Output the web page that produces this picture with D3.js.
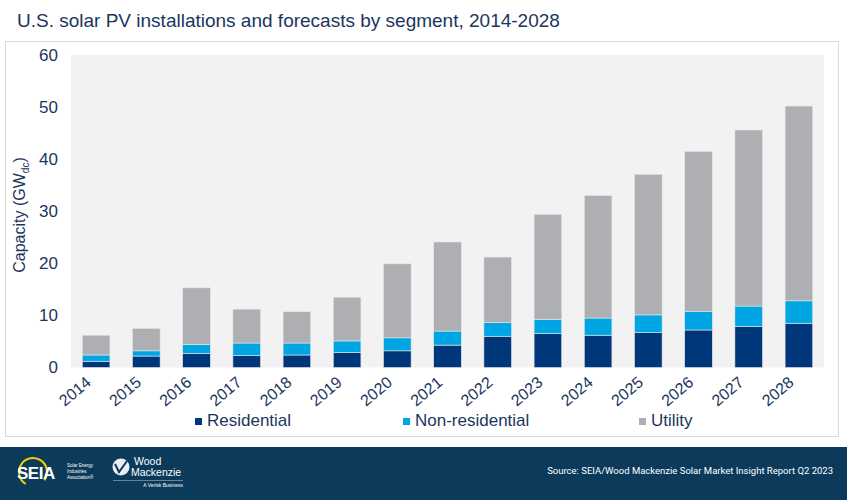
<!DOCTYPE html>
<html>
<head>
<meta charset="utf-8">
<script src="https://cdn.jsdelivr.net/npm/d3@7"></script>
<style>
  html, body { margin: 0; padding: 0; background: #fff; }
  svg { display: block; font-family: Arial, "Liberation Sans", sans-serif; }
</style>
</head>
<body>
<div id="container"></div>
<script>
const years = ["2014", "2015", "2016", "2017", "2018", "2019", "2020", "2021",
               "2022", "2023", "2024", "2025", "2026", "2027", "2028"];
const residential    = [1.2, 2.2, 2.7, 2.3, 2.4, 2.9, 3.2, 4.3, 6.0, 6.5, 6.2, 6.7, 7.2, 7.9, 8.5];
const nonResidential = [1.2, 1.0, 1.7, 2.4, 2.3, 2.2, 2.5, 2.7, 2.6, 2.7, 3.3, 3.4, 3.6, 3.9, 4.3];
const utility        = [3.8, 4.3, 10.9, 6.5, 6.0, 8.4, 14.2, 17.1, 12.6, 20.2, 23.5, 27.0, 30.7, 33.8, 37.4];
const segments = ["Residential", "Non-residential", "Utility"];
const yTicks = [0, 10, 20, 30, 40, 50, 60];

const width = 847, height = 500;
const textColor = "#1b365d";
const colors = { "Residential": "#00377b", "Non-residential": "#00a6e3", "Utility": "#adafb2" };

const rows = years.map((y, i) => ({
  year: y,
  "Residential": residential[i],
  "Non-residential": nonResidential[i],
  "Utility": utility[i]
}));
const series = d3.stack().keys(segments)(rows);

const svg = d3.create("svg")
  .attr("width", width)
  .attr("height", height)
  .attr("viewBox", [0, 0, width, height]);

// title
svg.append("text")
  .attr("x", 17).attr("y", 27)
  .attr("fill", textColor)
  .attr("font-size", 19)
  .text("U.S. solar PV installations and forecasts by segment, 2014-2028");

// chart frame
svg.append("rect")
  .attr("x", 5.5).attr("y", 41.5)
  .attr("width", 833).attr("height", 395)
  .attr("fill", "#fff")
  .attr("stroke", "#d9d9d9");

const plot = { left: 71, right: 824, top: 55, bottom: 367.5 };

const x = d3.scaleBand()
  .domain(years)
  .range([plot.left, plot.right])
  .paddingInner(0.45)
  .paddingOuter(0.225);

const y = d3.scaleLinear()
  .domain([0, 60])
  .range([plot.bottom, plot.top]);

svg.append("rect")
  .attr("x", plot.left).attr("y", plot.top)
  .attr("width", plot.right - plot.left)
  .attr("height", plot.bottom - plot.top)
  .attr("fill", "#f2f2f2");

// bars
svg.append("g")
  .selectAll("g")
  .data(series)
  .join("g")
  .attr("fill", d => colors[d.key])
  .selectAll("rect")
  .data(d => d)
  .join("rect")
  .attr("x", d => x(d.data.year))
  .attr("y", d => y(d[1]))
  .attr("width", x.bandwidth())
  .attr("height", d => y(d[0]) - y(d[1]))
  .attr("stroke", "#e6e6e6")
  .attr("stroke-width", 0.6);

// y axis
const yAxis = svg.append("g")
  .attr("transform", `translate(${plot.left},0)`)
  .call(d3.axisLeft(y).tickValues(yTicks).tickSize(0).tickPadding(13));
yAxis.select(".domain").remove();
yAxis.selectAll("text")
  .attr("fill", textColor)
  .attr("font-size", 17)
  .attr("font-family", "Arial, 'Liberation Sans', sans-serif");

// x axis
const xAxis = svg.append("g")
  .attr("transform", `translate(0,${plot.bottom})`)
  .call(d3.axisBottom(x).tickSize(0));
xAxis.select(".domain").remove();
xAxis.selectAll("text")
  .attr("fill", textColor)
  .attr("font-size", 16)
  .attr("font-family", "Arial, 'Liberation Sans', sans-serif")
  .attr("text-anchor", "end")
  .attr("dy", 0)
  .attr("y", 0)
  .attr("transform", "translate(-4,16.5) rotate(-40)");

// y axis title
svg.append("text")
  .attr("transform", "translate(25,215) rotate(-90)")
  .attr("text-anchor", "middle")
  .attr("fill", textColor)
  .attr("font-size", 16)
  .call(t => {
    t.append("tspan").text("Capacity (GW");
    t.append("tspan").attr("font-size", 10).attr("dy", 4).text("dc");
    t.append("tspan").attr("dy", -4).text(")");
  });

// legend
const legendX = [195, 403, 639];
const legend = svg.append("g")
  .selectAll("g")
  .data(segments)
  .join("g")
  .attr("transform", (d, i) => `translate(${legendX[i]},426)`);
legend.append("rect")
  .attr("x", 0).attr("y", -8)
  .attr("width", 7).attr("height", 7)
  .attr("fill", d => colors[d]);
legend.append("text")
  .attr("x", 12)
  .attr("fill", textColor)
  .attr("font-size", 17)
  .text(d => d);

// footer band
const footer = svg.append("g");
footer.append("rect")
  .attr("x", 0).attr("y", 447)
  .attr("width", width).attr("height", height - 447)
  .attr("fill", "#0b3a5b");

footer.append("text")
  .attr("x", 833).attr("y", 474)
  .attr("text-anchor", "end")
  .attr("fill", "#fff")
  .attr("font-family", "Roboto, sans-serif")
  .attr("font-size", 9.5)
  .text("Source: SEIA/Wood Mackenzie Solar Market Insight Report Q2 2023");

// SEIA logo
footer.append("path")
  .attr("d", d3.arc()({ innerRadius: 13, outerRadius: 15, startAngle: -2.6, endAngle: 2.2 }))
  .attr("transform", "translate(33,472)")
  .attr("fill", "#f2d300");
footer.append("text")
  .attr("x", 17).attr("y", 479)
  .attr("fill", "#fff")
  .attr("font-weight", "bold")
  .attr("font-size", 17)
  .attr("letter-spacing", -0.5)
  .text("SEIA");
footer.append("text")
  .attr("fill", "#fff")
  .attr("font-size", 4.5)
  .selectAll("tspan")
  .data(["Solar Energy", "Industries", "Association®"])
  .join("tspan")
  .attr("x", 67)
  .attr("y", (d, i) => 467 + i * 6)
  .text(d => d);

// Wood Mackenzie logo
footer.append("circle")
  .attr("cx", 121).attr("cy", 467).attr("r", 8.5)
  .attr("fill", "#e9eef3");
footer.append("path")
  .attr("d", "M115,464 L119,472 L127,461")
  .attr("fill", "none")
  .attr("stroke", "#0b3a5b")
  .attr("stroke-width", 2);
footer.append("text")
  .attr("fill", "#fff")
  .attr("font-size", 10.5)
  .selectAll("tspan")
  .data(["Wood", "Mackenzie"])
  .join("tspan")
  .attr("x", (d, i) => i ? 131 : 134)
  .attr("y", (d, i) => 465 + i * 11)
  .text(d => d);
footer.append("line")
  .attr("x1", 113).attr("x2", 183)
  .attr("y1", 480.5).attr("y2", 480.5)
  .attr("stroke", "#8fa3b8")
  .attr("stroke-width", 0.7);
footer.append("text")
  .attr("x", 183).attr("y", 487)
  .attr("text-anchor", "end")
  .attr("fill", "#fff")
  .attr("font-size", 5)
  .text("A Verisk Business");

document.getElementById("container").append(svg.node());
</script>
</body>
</html>
